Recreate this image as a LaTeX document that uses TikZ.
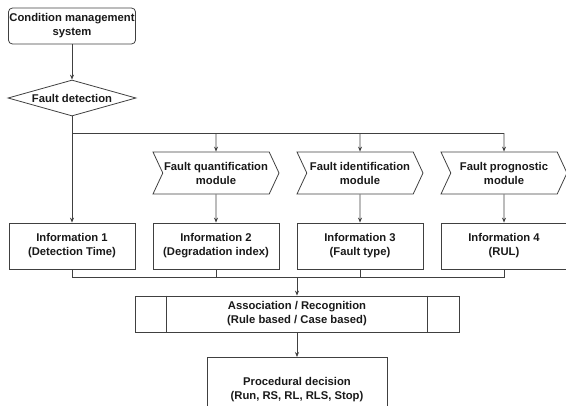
\documentclass[tikz,border=0pt]{standalone}
\usepackage{fontspec}
\setmainfont{Liberation Sans}
\usetikzlibrary{shapes.geometric, shapes.symbols, arrows.meta}

\tikzset{
	txt/.style = {font=\bfseries\fontsize{11.3}{14}\selectfont, align=center, text=black!90},
	box/.style = {txt, rectangle, draw=black!75, line width=0.8pt, inner sep=1bp, minimum width=126bp, minimum height=46bp},
	startbox/.style = {box, rounded corners=4bp, minimum height=36bp},
	decide/.style = {txt, diamond, draw=black!75, line width=0.8pt, inner sep=0pt, aspect=3.5, minimum width=128bp, minimum height=36bp},
	module/.style = {txt, signal, signal from=west, signal to=east, signal pointer angle=130, draw=black!75, line width=0.8pt, inner sep=1bp, minimum width=126bp, minimum height=42bp},
	link/.style = {draw=black!75, line width=0.8pt},
	>={Stealth[length=5bp, width=4bp]}
}

\begin{document}
\begin{tikzpicture} [x=1bp, y=-1bp]
		\clip (0,0) rectangle (566,405);
		% top of the chart
		\node [startbox] (cms) at (72,26) {Condition management\\system};
		\node [decide] (fd) at (72,98) {Fault detection};
		% modules
		\node [module] (fq) at (216,173) {Fault quantification\\module};
		\node [module] (fi) at (360,173) {Fault identification\\module};
		\node [module] (fp) at (504,173) {Fault prognostic\\module};
		% information boxes
		\node [box] (info1) at (72,246) {Information 1\\(Detection Time)};
		\node [box] (info2) at (216,246) {Information 2\\(Degradation index)};
		\node [box] (info3) at (360,246) {Information 3\\(Fault type)};
		\node [box] (info4) at (504,246) {Information 4\\(RUL)};
		% association and decision
		\node [box, minimum width=324bp, minimum height=36bp] (assoc) at (297,314) {Association / Recognition\\(Rule based / Case based)};
		\draw [link] ([xshift=32bp]assoc.north west) -- ([xshift=32bp]assoc.south west);
		\draw [link] ([xshift=-32bp]assoc.north east) -- ([xshift=-32bp]assoc.south east);
		\node [box, minimum width=180bp, minimum height=64bp, anchor=north] (proc) at (297,357) {Procedural decision\\(Run, RS, RL, RLS, Stop)};
		% connectors
		\coordinate (bus1) at (72,133);
		\coordinate (bus2) at (72,277);
		\draw [link, ->] (cms) -- (fd);
		\draw [link, ->] (fd) -- (info1);
		\draw [link] (bus1) -- (bus1 -| fp.north);
		\draw [link, ->] (bus1 -| fq.north) -- (fq);
		\draw [link, ->] (bus1 -| fi.north) -- (fi);
		\draw [link, ->] (bus1 -| fp.north) -- (fp);
		\draw [link, ->] (fq) -- (info2);
		\draw [link, ->] (fi) -- (info3);
		\draw [link, ->] (fp) -- (info4);
		\draw [link] (info1) -- (bus2) -- (bus2 -| info4.south) -- (info4);
		\draw [link] (info2) -- (info2 |- bus2);
		\draw [link] (info3) -- (info3 |- bus2);
		\draw [link, ->] (bus2 -| assoc.north) -- (assoc);
		\draw [link, ->] (assoc) -- (proc);
	\end{tikzpicture}
\end{document}
